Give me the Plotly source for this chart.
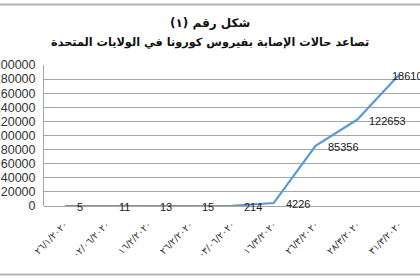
import plotly.graph_objects as go

dates = ["٢٦/١/٢٠٢٠", "٠٢/٠٦/٢٠٢٠", "١٦/٢/٢٠٢٠", "٢٦/٢/٢٠٢٠", "٠٣/٠٦/٢٠٢٠",
         "١٦/٣/٢٠٢٠", "٢٦/٣/٢٠٢٠", "٢٨/٣/٢٠٢٠", "٣١/٣/٢٠٢٠"]
cases = [5, 11, 13, 15, 214, 4226, 85356, 122653, 186101]
title_line1 = "شكل رقم (١)"
title_line2 = "تصاعد حالات الإصابة بفيروس كورونا في الولايات المتحدة"

xs = list(range(len(dates)))

fig = go.Figure()
fig.add_trace(go.Scatter(
    x=xs, y=cases, mode="lines",
    line=dict(color="#5B9BD5", width=2.2),
    cliponaxis=False, showlegend=False,
))

label_annots = []
for i, v in enumerate(cases):
    label_annots.append(dict(
        x=xs[i], y=v, xref="x", yref="y", text=str(v), showarrow=False,
        xanchor="left", yanchor="middle", xshift=(10 if i < len(cases) - 1 else -9),
        yshift=-1,
        font=dict(family="Liberation Sans", size=11, color="#222"),
    ))

fig.update_layout(
    width=420, height=280,
    margin=dict(l=44, r=0, t=65, b=74),
    paper_bgcolor="white", plot_bgcolor="white",
    xaxis=dict(
        range=[-0.5, 8.5], tickmode="array", tickvals=xs,
        ticktext=dates, tickangle=-45, showgrid=False, zeroline=False,
        showline=False, automargin=False, ticklabelstandoff=10,
        tickfont=dict(family="DejaVu Sans", size=9.5, color="#333"),
    ),
    yaxis=dict(
        range=[0, 200000], dtick=20000, showgrid=True, gridcolor="#a6a6a6",
        gridwidth=1, zeroline=True, zerolinecolor="#a6a6a6", zerolinewidth=1,
        showline=True, linecolor="#a6a6a6", linewidth=1, automargin=False,
        tickformat="d", ticks="", ticklabelstandoff=5,
        tickfont=dict(family="Liberation Sans", size=12.5, color="#333"),
    ),
    annotations=label_annots + [
        dict(text="<b>" + title_line1 + "</b>", xref="paper", yref="paper",
             x=0.4415, y=1.298, showarrow=False, xanchor="center", yanchor="middle",
             font=dict(family="DejaVu Sans", size=12, color="#111")),
        dict(text="<b>" + title_line2 + "</b>", xref="paper", yref="paper",
             x=0.4415, y=1.163, showarrow=False, xanchor="center", yanchor="middle",
             font=dict(family="DejaVu Sans", size=11.3, color="#111")),
    ],
    shapes=[
        dict(type="line", xref="paper", yref="paper", x0=-0.2, x1=1.1,
             y0=1.429, y1=1.429, line=dict(color="#b4b4b4", width=2)),
        dict(type="line", xref="paper", yref="paper", x0=-0.2, x1=1.1,
             y0=-0.486, y1=-0.486, line=dict(color="#b4b4b4", width=2)),
    ],
)

fig.write_html("out.html")
